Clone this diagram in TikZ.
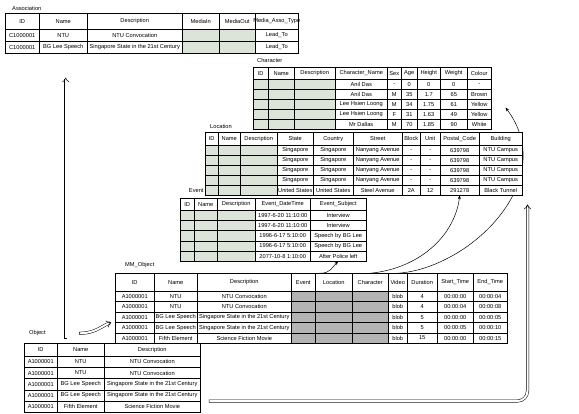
\documentclass[tikz,border=0pt]{standalone}
\usepackage{fontspec}
\setmainfont{Liberation Sans}
\usetikzlibrary{positioning,arrows.meta,matrix}

\definecolor{cellgn}{HTML}{DCE3D8}
\definecolor{cellgy}{HTML}{B4B4B4}
\newcommand{\ovr}[1]{\makebox[0pt]{#1}}

\begin{document}
\begin{tikzpicture}[
  x=1pt, y=-1pt,
  tbl/.style={matrix of nodes, nodes in empty cells, anchor=north west,
    inner sep=0pt, outer sep=0pt, line width=0.5pt,
    column sep=-\pgflinewidth, row sep=-\pgflinewidth,
    nodes={draw, fill=white, inner sep=0pt, anchor=center,
      font=\fontsize{5.7}{6.5}\selectfont}},
  cw/.style args={#1/#2}{column #1/.style={nodes={minimum width=#2pt}}},
  gn/.style={column #1/.append style={nodes={fill=cellgn}}},
  gy/.style={column #1/.append style={nodes={fill=cellgy}}},
  rh/.style args={#1/#2}{nodes={minimum height=#2pt},
    row 1/.style={nodes={minimum height=#1pt, fill=white}}},
  lbl/.style={inner sep=0pt, font=\fontsize{5.7}{6.5}\selectfont},
  arr/.style={-{Stealth[length=4pt, width=3pt]}, line width=0.5pt},
  dbl/.style={double, double distance=2pt, line width=0.5pt, line cap=rect, -{Implies}}
]
\useasboundingbox (0,0) rectangle (579,413);

\matrix (as) [tbl, cw/.list={1/34,2/48,3/95,4/37,5/36,6/43}, gn/.list={4,5}, rh=16/12]
  at (5,13) {
  ID & Name & Description & MediaIn & MediaOut & \ovr{Media\_Asso\_Type} \\
  C1000001 & NTU & NTU Convocation & & & Lead\_To \\
  C1000001 & BG Lee Speech & Singapore State in the 21st Century & & & Lead\_To \\
};
\node[lbl, above right=2pt and 7pt of as.north west] (aslbl) {Association};

\matrix (ch) [tbl, cw/.list={1/15,2/26,3/41,4/52,5/14,6/16,7/23,8/27,9/24},
  gn/.list={1,2,3}, rh=12/10] at (253,67) {
  ID & Name & Description & Character\_Name & Sex & Age & Height & Weight & Colour \\
  & & & Anil Das & - & 0 & 0 & 0 & - \\
  & & & Anil Das & M & 35 & 1.7 & 65 & Brown \\
  & & & Lee Hsien Loong & M & 34 & 1.75 & 61 & Yellow \\
  & & & Lee Hsien Loong & F & 31 & 1.63 & 49 & Yellow \\
  & & & Mr Dallas & M & 70 & 1.85 & 90 & White \\
};
\node[lbl, above right=4pt and 4pt of ch.north west] (chlbl) {Character};

\matrix (ev) [tbl, cw/.list={1/14,2/23,3/38,4/55,5/56}, gn/.list={1,2,3}, rh=12/10.2]
  at (180,198) {
  ID & Name & Description & Event\_DateTime & Event\_Subject \\
  & & & \ovr{1997-6-20 11:10:00} & Interview \\
  & & & \ovr{1997-6-20 11:10:00} & Interview \\
  & & & 1996-6-17 5:10:00 & Speech by BG Lee \\
  & & & 1996-6-17 5:10:00 & Speech by BG Lee \\
  & & & 2077-10-8 1:10:00 & After Police left \\
};

\matrix (mm) [tbl, cw/.list={1/39,2/43,3/94,4/24,5/37,6/36,7/19,8/30,9/36,10/34},
  gy/.list={4,5,6}, rh=18/10.4] at (115,273) {
  ID & Name & Description & Event & Location & Character & Video & Duration & Start\_Time & End\_Time \\
  A1000001 & NTU & NTU Convocation & & & & blob & 4 & 00:00:00 & 00:00:04 \\
  A1000001 & NTU & NTU Convocation & & & & blob & 4 & 00:00:04 & 00:00:08 \\
  A1000001 & BG Lee Speech & Singapore State in the 21st Century & & & & blob & 5 & 00:00:00 & 00:00:05 \\
  A1000001 & BG Lee Speech & Singapore State in the 21st Century & & & & blob & 5 & 00:00:05 & 00:00:10 \\
  A1000001 & Fifth Element & Science Fiction Movie & & & & blob & 15 & 00:00:00 & 00:00:15 \\
};
\node[lbl, above right=5pt and 10pt of mm.north west] (mmlbl) {MM\_Object};

\matrix (ob) [tbl, cw/.list={1/33,2/47,3/96}, rh=13/11.2] at (24,343) {
  ID & Name & Description \\
  A1000001 & NTU & NTU Convocation \\
  A1000001 & NTU & NTU Convocation \\
  A1000001 & BG Lee Speech & Singapore State in the 21st Century \\
  A1000001 & BG Lee Speech & Singapore State in the 21st Century \\
  A1000001 & Fifth Element & Science Fiction Movie \\
};
\node[lbl, above right=7pt and 5pt of ob.north west] (oblbl) {Object};

% runs behind the location table
\coordinate (chtip) at ([xshift=14pt, yshift=22pt]ch.south east);
\draw[arr] (mm-1-7.north) .. controls +(72,-5) and +(55,73) .. (chtip);

\matrix (loc) [tbl, cw/.list={1/13,2/22,3/37,4/36,5/40,6/49,7/18,8/20,9/39,10/43},
  gn/.list={1,2,3}, rh=13/10] at (205,132) {
  ID & Name & Description & State & Country & Street & Block & Unit & Postal\_Code & Building \\
  & & & Singapore & Singapore & Nanyang Avenue & - & - & 639798 & NTU Campus \\
  & & & Singapore & Singapore & Nanyang Avenue & - & - & 639798 & NTU Campus \\
  & & & Singapore & Singapore & Nanyang Avenue & - & - & 639798 & NTU Campus \\
  & & & Singapore & Singapore & Nanyang Avenue & - & - & 639798 & NTU Campus \\
  & & & United States & United States & Steel Avenue & 2A & 12 & 291278 & Black Tunnel \\
};
\node[lbl, above right=3.5pt and 5pt of loc.north west] (loclbl) {Location};
\node[lbl, left=1.5pt of loc-6-1] (evlbl) {Event};

\draw[arr] ([xshift=5pt]mm-1-5.north west) .. controls +(10,0) and +(-6,6) .. (ev-6-5.south);
\draw[arr] (mm-1-6.north) .. controls +(50,-5) and +(-5,40) .. (loc-6-9.south);

\coordinate (obup) at ([xshift=-15pt, yshift=6pt]ob-1-2.north);
\coordinate (asdn) at ([yshift=-24pt]as.south);
\draw[dbl] (obup) -- (obup |- asdn);
\draw[dbl] ([yshift=10pt]ob-1-2.north) .. controls +(14,0) and +(-8,3) .. ([xshift=-4pt]mm-5-1.north west);

\coordinate (loctip) at ([xshift=5pt, yshift=-9pt]loc.south east);
\draw[dbl, rounded corners=10pt] ([xshift=10pt]ob-6-3.north east) -| (loctip);
\end{tikzpicture}
\end{document}
